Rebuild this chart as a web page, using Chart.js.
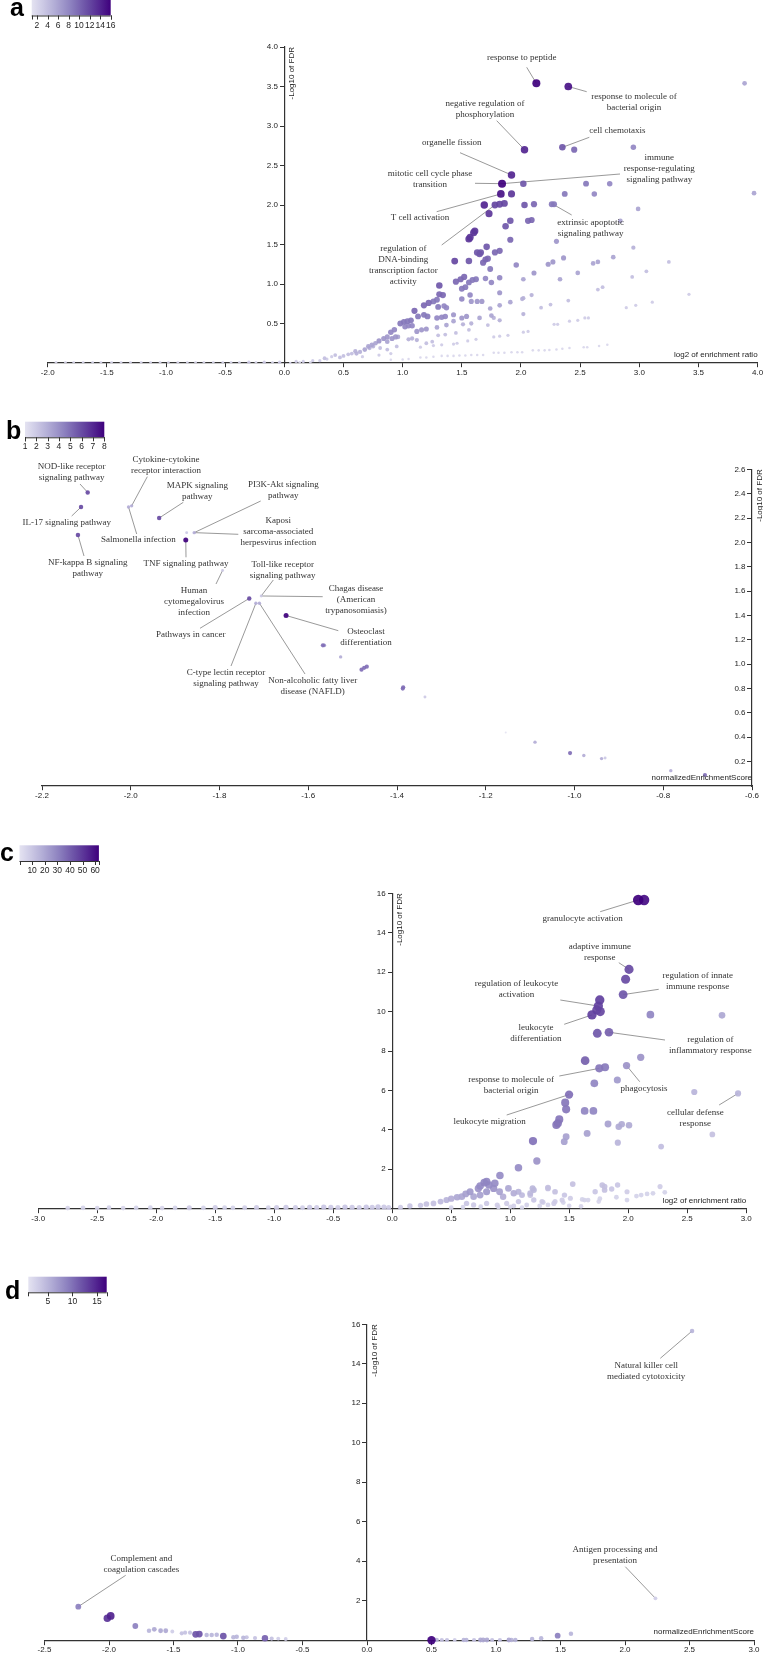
<!DOCTYPE html>
<html><head><meta charset="utf-8">
<script src="https://cdn.jsdelivr.net/npm/chart.js@4.4.1/dist/chart.umd.min.js"></script>
<style>
html,body{margin:0;padding:0;background:#fff;}
body{width:763px;height:1653px;position:relative;overflow:hidden;}
.p{position:absolute;left:0;width:763px;}
canvas{display:block;}
</style></head><body>
<div class="p" style="top:0px;height:388px"><canvas id="ca" width="763" height="388"></canvas></div>
<div class="p" style="top:388px;height:417px"><canvas id="cb" width="763" height="417"></canvas></div>
<div class="p" style="top:805px;height:420px"><canvas id="cc" width="763" height="420"></canvas></div>
<div class="p" style="top:1225px;height:428px"><canvas id="cd" width="763" height="428"></canvas></div>
<script>
// ---------------- Panel a data ----------------
const aX = [2.13,2.40,3.89,2.03,2.35,2.45,2.95,1.92,1.84,2.02,
2.55,2.75,3.97,1.83,1.92,2.37,2.62,1.69,1.78,1.82,
1.86,2.03,2.11,2.26,2.28,2.99,1.73,1.91,2.06,2.09,
2.84,1.87,1.61,1.60,1.57,1.56,1.91,2.30,2.95,1.71,
1.63,1.66,1.65,1.78,1.82,1.44,1.56,1.70,1.72,1.68,
1.74,1.96,2.23,2.27,2.36,2.61,2.65,2.78,3.25,2.11,
2.48,3.06,2.94,2.02,2.33,1.82,1.45,1.49,1.52,1.56,
1.59,1.62,1.31,1.50,1.53,1.70,1.75,1.31,1.34,1.18,
1.22,1.26,1.29,1.10,1.50,1.57,1.58,1.63,1.67,1.82,
1.74,1.82,1.91,2.01,2.02,2.09,2.17,2.25,2.40,2.65,
2.69,2.89,2.97,3.11,3.42,1.30,1.35,1.37,1.13,1.18,
1.21,1.29,1.33,1.36,1.43,1.50,1.54,1.65,1.75,1.82,
2.02,0.98,1.01,1.04,1.07,1.02,1.05,1.08,1.12,1.16,
1.20,1.29,1.37,1.43,1.51,1.58,1.77,2.28,2.31,2.41,
2.48,2.54,2.57,1.82,1.89,2.02,2.06,0.84,0.87,0.91,
0.94,0.96,0.87,1.05,1.08,1.12,1.20,1.25,1.30,1.36,
1.45,1.56,1.72,1.43,1.46,1.55,1.62,1.77,1.15,1.26,
1.33,0.71,0.74,0.77,0.72,0.75,0.64,0.61,0.57,0.54,
0.50,0.43,0.40,0.36,0.30,0.22,0.13,0.05,0.81,0.87,
0.95,0.66,0.80,0.90,0.90,1.00,1.05,1.15,1.20,1.26,
1.33,1.38,1.43,1.48,1.53,1.58,1.63,1.68,1.77,1.81,
1.86,1.92,1.97,2.01,2.10,2.15,2.20,2.24,2.30,2.35,
2.41,2.53,2.56,2.66,2.73,-1.93,-1.85,-1.78,-1.70,-1.62,
-1.55,-1.46,-1.38,-1.30,-1.21,-1.13,-1.05,-0.98,-0.90,-0.82,
-0.75,-0.68,-0.60,-0.52,-0.45,-0.38,-0.30,-0.24,-0.17,-0.10,
-0.04,0.10,0.16,0.24,0.34,0.90,0.93,0.80,0.68,0.60,
0.47];
const aY = [3.54,3.50,3.54,2.70,2.73,2.70,2.73,2.38,2.27,2.27,
2.27,2.27,2.15,2.14,2.14,2.14,2.14,2.00,2.00,2.01,
2.02,2.00,2.01,2.01,2.01,1.95,1.89,1.80,1.80,1.81,
1.80,1.73,1.67,1.65,1.59,1.57,1.56,1.54,1.46,1.47,
1.40,1.40,1.38,1.40,1.42,1.29,1.29,1.31,1.32,1.27,
1.19,1.24,1.25,1.28,1.33,1.26,1.28,1.34,1.28,1.14,
1.14,1.16,1.09,1.06,1.06,1.08,1.03,1.06,1.09,1.02,
1.05,1.06,0.98,0.94,0.96,1.07,1.02,0.87,0.86,0.73,
0.76,0.78,0.80,0.66,0.81,0.86,0.78,0.78,0.78,0.89,
0.69,0.73,0.77,0.81,0.82,0.86,0.70,0.74,0.79,0.93,
0.96,0.70,0.73,0.77,0.87,0.71,0.72,0.70,0.59,0.61,
0.59,0.57,0.58,0.59,0.61,0.57,0.59,0.57,0.60,0.54,
0.62,0.50,0.52,0.53,0.54,0.46,0.47,0.47,0.40,0.42,
0.43,0.45,0.48,0.53,0.49,0.50,0.57,0.49,0.49,0.53,
0.54,0.57,0.57,0.34,0.35,0.39,0.40,0.31,0.33,0.31,
0.33,0.33,0.27,0.30,0.31,0.29,0.25,0.27,0.35,0.36,
0.38,0.42,0.48,0.24,0.25,0.28,0.30,0.33,0.20,0.22,
0.23,0.21,0.23,0.25,0.19,0.21,0.14,0.12,0.12,0.11,
0.09,0.10,0.08,0.05,0.03,0.01,0.01,0.00,0.19,0.17,
0.21,0.08,0.10,0.12,0.04,0.045,0.05,0.07,0.07,0.08,
0.09,0.09,0.09,0.095,0.095,0.10,0.10,0.10,0.13,0.13,
0.13,0.135,0.135,0.135,0.16,0.16,0.16,0.165,0.17,0.18,
0.19,0.20,0.20,0.215,0.23,0.01,0.01,0.01,0.01,0.01,
0.01,0.01,0.01,0.01,0.01,0.01,0.01,0.01,0.01,0.01,
0.01,0.01,0.01,0.01,0.01,0.01,0.01,0.01,0.01,0.01,
0.01,0.02,0.02,0.03,0.06,0.39,0.42,0.28,0.17,0.15,
0.07];
const aN = [16,15,6,14,11,10,8,14,16,11,
9,8,6,15,13,9,8,14,12,12,
12,11,10,9,9,6,13,11,10,10,
6,11,13,13,13,13,10,7,5,11,
11,11,11,10,10,12,11,10,10,10,
9,8,7,7,7,6,6,6,4,7,
6,4,4,6,6,8,10,10,10,9,
9,9,11,9,9,8,8,10,10,10,
10,9,9,10,8,8,7,7,7,7,
6,6,6,5,5,5,4,4,4,4,
4,3,3,3,3,9,8,8,9,9,
9,8,8,8,7,7,7,6,6,5,
5,9,9,9,9,8,8,8,7,7,
7,6,6,6,5,5,5,3,3,3,
3,3,3,3,3,3,3,7,7,7,
7,6,6,5,5,5,4,4,4,4,
4,4,4,3,3,3,3,3,3,3,
3,6,6,6,5,5,5,5,4,4,
4,4,3,3,3,2,2,2,4,4,
4,3,3,3,2,2,2,2,2,2,
2,2,2,2,2,2,2,2,2,2,
2,2,2,2,2,2,2,2,2,2,
2,2,2,2,2,2,2,2,2,2,
2,2,2,2,2,2,2,2,2,2,
2,2,2,2,2,2,3,2,3,2,
3,3,3,3,4,8,8,7,6,5,
4];
const aXRange = [-2, 4], aYRange = [0, 4];
const aXTicks = [-2,-1.5,-1,-0.5,0,0.5,1,1.5,2,2.5,3,3.5,4];
const aYTicks = [0.5,1,1.5,2,2.5,3,3.5,4];
const aColorRange = [1, 16];
const aBarTicks = [2,4,6,8,10,12,14,16];

// ---------------- Panel b data ----------------
const bX = [-2.097,-2.112,-2.119,-2.005,-1.998,-1.936,-1.857,-1.874,-1.876,-1.793,
-1.706,-1.733,-1.718,-1.710,-1.650,-1.567,-1.564,-1.527,-1.480,-1.474,
-1.468,-1.386,-1.387,-1.337,-1.155,-1.089,-1.010,-0.979,-0.939,-0.931,
-0.783,-0.706];
const bY = [2.41,2.29,2.06,2.29,2.30,2.20,2.08,2.08,2.02,1.77,
1.56,1.54,1.50,1.50,1.40,1.155,1.155,1.06,0.955,0.97,
0.98,0.81,0.80,0.73,0.44,0.36,0.27,0.25,0.225,0.23,
0.126,0.09];
const bN = [6,6,6,3,3,6,3,2,8,2,
2,6,3,3,8,5,4,3,5,5,
5,5,5,2,1,3,5,3,3,2,
3,5];
const bXRange = [-2.2, -0.6], bYRange = [0, 2.6];
const bXTicks = [-2.2,-2.0,-1.8,-1.6,-1.4,-1.2,-1.0,-0.8,-0.6];
const bYTicks = [0.2,0.4,0.6,0.8,1.0,1.2,1.4,1.6,1.8,2.0,2.2,2.4,2.6];
const bColorRange = [1, 8];
const bBarTicks = [1,2,3,4,5,6,7,8];

// ---------------- Panel c data ----------------
const cX = [2.085,2.135,2.007,1.978,1.957,1.759,1.747,1.734,1.763,1.693,
2.188,2.795,1.738,1.837,1.635,1.755,1.804,1.986,2.106,1.908,
1.713,2.560,2.931,1.499,1.466,1.474,1.631,1.705,1.416,1.404,
1.391,1.829,1.920,1.945,2.007,1.652,2.713,1.474,1.458,1.193,
1.912,2.279,1.226,1.070,0.913,
0.623,0.66,0.73,0.745,0.78,0.80,0.82,0.86,0.87,0.69,
0.745,0.80,0.91,0.94,0.985,1.03,1.07,1.10,1.17,1.20,
1.32,1.38,1.07,1.20,1.27,1.37,0.46,0.50,0.55,0.59,
0.41,0.35,0.29,0.24,0.15,0.07,0.63,0.69,0.80,0.89,
0.97,1.03,1.14,1.25,1.32,
1.19,1.17,1.32,1.53,1.46,1.51,1.44,1.38,1.28,1.63,
1.66,1.72,1.78,1.80,1.80,1.86,1.91,1.99,1.99,2.07,
2.11,2.16,2.21,2.27,2.31,1.90,1.76,1.75,1.61,1.45,
0.50,0.60,0.75,0.90,1.00,1.10,1.50,1.60,
-2.75,-2.62,-2.50,-2.40,-2.28,-2.17,-2.05,-1.95,-1.84,-1.72,
-1.60,-1.50,-1.42,-1.35,-1.25,-1.15,-1.05,-0.98,-0.90,-0.82,
-0.76,-0.70,-0.64,-0.58,-0.52,-0.46,-0.40,-0.34,-0.28,-0.22,
-0.17,-0.12,-0.07,-0.03];
const cY = [15.66,15.66,12.14,11.64,10.86,10.59,10.28,10.08,10.0,9.83,
9.84,9.81,8.90,8.95,7.51,7.12,7.17,7.26,7.68,6.53,
6.36,5.92,5.85,5.79,5.38,5.04,4.96,4.96,4.53,4.33,
4.25,4.30,4.16,4.28,4.23,3.82,3.77,3.65,3.40,3.43,
3.35,3.15,2.42,2.08,1.68,
0.75,0.86,1.03,1.15,1.32,1.37,1.20,1.03,1.29,0.61,
0.69,0.86,0.86,0.61,1.03,0.78,0.86,0.69,0.78,0.95,
1.03,0.86,0.36,0.44,0.36,0.27,0.44,0.51,0.58,0.61,
0.36,0.27,0.24,0.17,0.14,0.07,0.27,0.19,0.27,0.19,
0.27,0.14,0.19,0.14,0.19,
1.03,0.69,1.07,1.25,0.69,0.53,0.44,0.36,0.31,0.44,
0.44,0.86,1.20,1.12,0.95,1.00,1.20,0.86,0.44,0.64,
0.69,0.75,0.78,1.12,0.83,0.58,0.51,0.36,0.47,0.31,
0.05,0.08,0.10,0.08,0.10,0.06,0.15,0.12,
0.03,0.04,0.03,0.05,0.03,0.04,0.05,0.03,0.04,0.05,
0.04,0.06,0.05,0.04,0.05,0.06,0.05,0.06,0.07,0.06,
0.05,0.07,0.06,0.08,0.07,0.06,0.08,0.07,0.06,0.08,
0.07,0.09,0.08,0.06];
const cN = [63,60,45,45,42,48,47,46,46,48,
30,20,42,40,40,34,33,26,26,24,
30,16,16,36,34,34,30,30,34,34,
34,22,19,19,19,22,12,22,22,35,
16,13,26,28,28,
22,24,26,28,30,30,28,26,28,20,
22,24,22,18,20,18,16,14,14,15,
12,12,10,10,9,8,16,18,20,20,
14,12,12,10,10,8,10,9,9,8,
8,7,7,6,6,
15,12,12,12,10,8,8,8,7,6,
6,10,12,12,12,10,10,8,6,6,
6,6,6,8,6,6,6,5,6,6,
6,6,6,5,5,5,5,5,
5,6,5,6,5,6,6,5,6,8,
6,8,6,6,7,8,6,8,9,8,
7,9,8,10,9,8,10,9,8,10,
9,10,9,8];
const cXRange = [-3, 3], cYRange = [0, 16];
const cXTicks = [-3,-2.5,-2,-1.5,-1,-0.5,0,0.5,1,1.5,2,2.5,3];
const cYTicks = [2,4,6,8,10,12,14,16];
const cColorRange = [0, 63];
const cBarTicks = [10,20,30,40,50,60];

// ---------------- Panel d data ----------------
const dX = [2.52,2.236,-2.238,-2.013,-1.987,-1.796,-1.69,-1.649,-1.60,-1.56,
-1.509,-1.436,-1.41,-1.372,-1.328,-1.30,-1.243,-1.204,-1.165,-1.114,
-1.036,-1.010,-0.959,-0.933,-0.868,-0.791,-0.739,-0.688,-0.630,0.50,
0.54,0.58,0.62,0.68,0.75,0.77,0.83,0.88,0.90,0.93,
0.97,1.03,1.10,1.12,1.15,1.28,1.35,1.478,1.581];
const dY = [15.66,2.12,1.70,1.11,1.23,0.72,0.48,0.55,0.48,0.48,
0.44,0.35,0.38,0.38,0.30,0.31,0.26,0.26,0.28,0.21,
0.15,0.17,0.13,0.15,0.11,0.095,0.08,0.08,0.06,0.0,
0.01,0.01,0.01,0.01,0.01,0.01,0.01,0.01,0.01,0.01,
0.01,0.01,0.01,0.01,0.01,0.06,0.10,0.23,0.33];
const dN = [5,3,9,14,15,9,5,6,6,6,
3,4,4,4,12,12,5,5,5,12,
5,5,5,4,4,11,4,3,3,17,
5,4,4,3,5,5,4,6,6,6,
4,4,6,5,5,5,5,9,5];
const dXRange = [-2.5, 3], dYRange = [0, 16];
const dXTicks = [-2.5,-2,-1.5,-1,-0.5,0,0.5,1,1.5,2,2.5,3];
const dYTicks = [2,4,6,8,10,12,14,16];
const dColorRange = [1, 17];
const dBarTicks = [5,10,15];

// ---------------- Annotations (label text, page px of label and leader start, data point) ----------------
const aNotes = [
 {t:['response to peptide'], c:[521.7,57.7], l:[526.7,67.3], p:[2.13,3.54]},
 {t:['response to molecule of','bacterial origin'], c:[634,96.7], l:[586.7,91.7], p:[2.40,3.50]},
 {t:['negative regulation of','phosphorylation'], c:[485,103.3], l:[496.7,120.7], p:[2.03,2.70]},
 {t:['cell chemotaxis'], c:[617.3,130.7], l:[589.3,137.3], p:[2.35,2.73]},
 {t:['organelle fission'], c:[451.7,142.3], l:[460,152.7], p:[1.92,2.38]},
 {t:['mitotic cell cycle phase','transition'], c:[430,174], l:[475,183.3], p:[1.84,2.27]},
 {t:['immune','response-regulating','signaling pathway'], c:[659.3,157.7], l:[620,174], p:[1.84,2.27]},
 {t:['T cell activation'], c:[420,217.7], l:[436.7,211.7], p:[1.83,2.14]},
 {t:['regulation of','DNA-binding','transcription factor','activity'], c:[403.3,248.3], l:[441.7,245], p:[1.78,2.00]},
 {t:['extrinsic apoptotic','signaling pathway'], c:[590.7,222.7], l:[571.7,215], p:[2.27,2.01]}
];
const bNotes = [
 {t:['NOD-like receptor','signaling pathway'], c:[71.7,466.7], l:[80,484], p:[-2.097,2.41]},
 {t:['IL-17 signaling pathway'], c:[66.7,522.7], l:[71.7,516], p:[-2.112,2.29]},
 {t:['NF-kappa B signaling','pathway'], c:[87.7,562.7], l:[84,556], p:[-2.119,2.06]},
 {t:['Cytokine-cytokine','receptor interaction'], c:[166,460], l:[147.3,476.7], p:[-1.998,2.30]},
 {t:['Salmonella infection'], c:[138.3,540], l:[136.7,534], p:[-2.005,2.29]},
 {t:['MAPK signaling','pathway'], c:[197.3,486], l:[183.3,502.3], p:[-1.936,2.20]},
 {t:['PI3K-Akt signaling','pathway'], c:[283.3,485], l:[260.7,501], p:[-1.857,2.08]},
 {t:['Kaposi','sarcoma-associated','herpesvirus infection'], c:[278.3,521], l:[238.3,534.3], p:[-1.857,2.08]},
 {t:['TNF signaling pathway'], c:[186,564], l:[186,557.3], p:[-1.876,2.02]},
 {t:['Human','cytomegalovirus','infection'], c:[194,591], l:[216,584], p:[-1.793,1.77]},
 {t:['Toll-like receptor','signaling pathway'], c:[282.7,564.3], l:[273.3,580], p:[-1.706,1.56]},
 {t:['Chagas disease','(American','trypanosomiasis)'], c:[356,588.7], l:[322.7,596.7], p:[-1.706,1.56]},
 {t:['Pathways in cancer'], c:[190.7,634.7], l:[200,628.3], p:[-1.733,1.54]},
 {t:['Osteoclast','differentiation'], c:[366,631.7], l:[338.3,630.7], p:[-1.650,1.40]},
 {t:['C-type lectin receptor','signaling pathway'], c:[226,672.7], l:[231,666], p:[-1.718,1.50]},
 {t:['Non-alcoholic fatty liver','disease (NAFLD)'], c:[312.7,681], l:[305,674], p:[-1.710,1.50]}
];
const cNotes = [
 {t:['granulocyte activation'], c:[582.7,918.7], l:[600.2,911.7], p:[2.085,15.66]},
 {t:['adaptive immune','response'], c:[599.8,947], l:[618.8,962.7], p:[2.007,12.14]},
 {t:['regulation of innate','immune response'], c:[697.7,976], l:[658.7,989.3], p:[1.957,10.86]},
 {t:['regulation of leukocyte','activation'], c:[516.4,984], l:[560.3,1000], p:[1.747,10.28]},
 {t:['leukocyte','differentiation'], c:[535.9,1027.3], l:[564.2,1024.3], p:[1.693,9.83]},
 {t:['regulation of','inflammatory response'], c:[710.4,1039.7], l:[665,1040], p:[1.837,8.95]},
 {t:['response to molecule of','bacterial origin'], c:[511.1,1079.7], l:[559.3,1076], p:[1.755,7.12]},
 {t:['phagocytosis'], c:[644.1,1088.3], l:[639.7,1081.7], p:[1.986,7.26]},
 {t:['leukocyte migration'], c:[489.6,1122], l:[506.7,1115], p:[1.499,5.79]},
 {t:['cellular defense','response'], c:[695.3,1112.7], l:[719.1,1105], p:[2.931,5.85]}
];
const dNotes = [
 {t:['Natural killer cell','mediated cytotoxicity'], c:[646.2,1366], l:[660.3,1358.3], p:[2.52,15.66]},
 {t:['Antigen processing and','presentation'], c:[615,1549.7], l:[625.3,1566.7], p:[2.236,2.12]},
 {t:['Complement and','coagulation cascades'], c:[141.3,1558.7], l:[125.7,1575.3], p:[-2.238,1.70]}
];

// ---------------- styling helpers ----------------
const RAMP = [[228,227,241],[200,197,227],[170,164,209],[140,128,191],[111,87,169],[87,46,149],[63,0,125]];
function rampRGB(t){
  t = Math.max(0, Math.min(1, t));
  const s = t*(RAMP.length-1);
  const i = Math.min(Math.floor(s), RAMP.length-2);
  const f = s - i, a = RAMP[i], b = RAMP[i+1];
  return [0,1,2].map(k => Math.round(a[k] + (b[k]-a[k])*f));
}
function rgba(t, al){ const c = rampRGB(t); return `rgba(${c[0]},${c[1]},${c[2]},${al})`; }
const SANS = '"Liberation Sans", Arial, Helvetica, sans-serif';
const SERIF = '"Liberation Serif", "Times New Roman", serif';

function axis(range, ticks, fmt, pos, showLabels){
  return {
    type:'linear', min:range[0], max:range[1], position:pos,
    afterBuildTicks: s => { s.ticks = ticks.map(v => ({value:v})); },
    afterFit: s => { s.paddingLeft = 0; s.paddingRight = 0; s.paddingTop = 0; s.paddingBottom = 0; },
    ticks:{ display:showLabels, callback: v => fmt(v), font:{family:SANS, size:8}, color:'#222', padding:1,
            autoSkip:false, maxRotation:0, minRotation:0 },
    grid:{ drawOnChartArea:false, drawTicks:true, tickLength:4, color:'#333', lineWidth:1 },
    border:{ display:true, color:'#333', width:1.2 }
  };
}

function deco(P){
  return {
    id:'deco',
    beforeDatasetsDraw(chart){
      const c = chart.ctx, sx = chart.scales.x, sy = chart.scales.y;
      c.save(); c.strokeStyle = '#8d8d8d'; c.lineWidth = 0.9;
      P.notes.forEach(n => {
        c.beginPath(); c.moveTo(n.l[0], n.l[1]-P.top);
        c.lineTo(sx.getPixelForValue(n.p[0]), sy.getPixelForValue(n.p[1])); c.stroke();
      });
      c.restore();
    },
    afterDraw(chart){
      const c = chart.ctx, sx = chart.scales.x, sy = chart.scales.y, ca = chart.chartArea;
      const ax = sx.getPixelForValue(P.yAt);
      c.save();
      // y tick labels (left of the tick marks)
      c.font = '8px ' + SANS; c.fillStyle = '#222'; c.textAlign = 'right'; c.textBaseline = 'middle';
      sy.ticks.forEach(t => c.fillText(P.yf(t.value), ax - 6.5, sy.getPixelForValue(t.value)));
      // annotation labels
      c.font = '9px ' + SERIF; c.fillStyle = '#333'; c.textAlign = 'center'; c.textBaseline = 'middle';
      P.notes.forEach(n => n.t.forEach((s,i) => c.fillText(s, n.c[0], n.c[1]-P.top+i*11)));
      // axis titles
      c.font = '8px ' + SANS; c.fillStyle = '#222'; c.textAlign = 'right'; c.textBaseline = 'middle';
      c.fillText(P.xTitle, ca.right, sy.getPixelForValue(0) - 8);
      c.save(); c.translate(ax + 7.7, ca.top); c.rotate(-Math.PI/2);
      c.textAlign = 'right'; c.fillText('-Log10 of FDR', 0, 0); c.restore();
      // colour bar
      const b = P.bar, y0 = b.y0 - P.top, y1 = b.y1 - P.top;
      const g = c.createLinearGradient(b.x0, 0, b.x1, 0);
      for (let i = 0; i <= 20; i++) g.addColorStop(i/20, rgba(i/20, 1));
      c.fillStyle = g; c.fillRect(b.x0, y0, b.x1-b.x0, y1-y0);
      const vx = v => b.x0 + (v - P.cr[0])/(P.cr[1]-P.cr[0])*(b.x1-b.x0);
      c.strokeStyle = '#333'; c.lineWidth = 1;
      c.beginPath(); c.moveTo(b.x0, y1+0.5); c.lineTo(b.x1, y1+0.5);
      [P.cr[0], ...b.ticks, P.cr[1]].forEach(v => { const x = Math.round(vx(v))+0.5; c.moveTo(x, y1); c.lineTo(x, y1+4); });
      c.stroke();
      c.font = '8.5px ' + SANS; c.fillStyle = '#222'; c.textAlign = 'center'; c.textBaseline = 'middle';
      b.ticks.forEach(v => c.fillText(String(v), vx(v), y1 + 9.7));
      // panel letter
      c.font = 'bold 25px ' + SANS; c.fillStyle = '#000'; c.textAlign = 'left'; c.textBaseline = 'alphabetic';
      c.fillText(P.letter[0], P.letter[1], P.letter[2] - P.top);
      c.restore();
    }
  };
}

function makePanel(P){
  const idx = P.X.map((_,i) => i).sort((i,j) => P.N[i]-P.N[j]);
  const pts = idx.map(i => ({x:P.X[i], y:P.Y[i], n:P.N[i]}));
  const col = ctx => ctx.raw ? rgba((ctx.raw.n - P.cr[0])/(P.cr[1]-P.cr[0]), 0.92) : '#888';
  const rad = ctx => ctx.raw ? P.rad(ctx.raw.n) : 2;
  new Chart(document.getElementById(P.id), {
    type:'scatter',
    data:{ datasets:[{ data:pts, clip:false, pointRadius:rad, pointHoverRadius:rad,
      pointBackgroundColor:col, pointHoverBackgroundColor:col, pointBorderWidth:0, borderWidth:0,
      pointBorderColor:'rgba(0,0,0,0)' }]},
    options:{
      responsive:false, animation:false, events:[],
      layout:{ autoPadding:false, padding:P.pad },
      plugins:{ legend:{display:false}, tooltip:{enabled:false} },
      scales:{
        x: axis(P.xr, P.xt, P.xf, {y:0}, true),
        y: axis(P.yr, P.yt, P.yf, {x:P.yAt}, false)
      }
    },
    plugins:[deco(P)]
  });
}

const f1 = v => v.toFixed(1), f0 = v => String(Math.round(v));

makePanel({id:'ca', top:0, X:aX, Y:aY, N:aN, cr:aColorRange, xr:aXRange, yr:aYRange, xt:aXTicks, yt:aYTicks,
  xf:f1, yf:f1, yAt:0, pad:{left:47.7, right:5.4, top:47, bottom:25},
  rad: n => 0.6 + 3.4*Math.pow((n-1)/15, 0.6),
  bar:{x0:31.7, x1:110.7, y0:0, y1:15.5, ticks:aBarTicks}, letter:['a',10,16],
  xTitle:'log2 of enrichment ratio', notes:aNotes});

makePanel({id:'cb', top:388, X:bX, Y:bY, N:bN, cr:bColorRange, xr:bXRange, yr:bYRange, xt:bXTicks, yt:bYTicks,
  xf:f1, yf:f1, yAt:-0.6, pad:{left:42, right:11, top:81.3, bottom:19},
  rad: n => 1 + 1.5*Math.pow((n-1)/7, 0.6),
  bar:{x0:25, x1:104.3, y0:421.7, y1:437.3, ticks:bBarTicks}, letter:['b',6,439],
  xTitle:'normalizedEnrichmentScore', notes:bNotes});

makePanel({id:'cc', top:805, X:cX, Y:cY, N:cN, cr:cColorRange, xr:cXRange, yr:cYRange, xt:cXTicks, yt:cYTicks,
  xf:f1, yf:f0, yAt:0, pad:{left:38.2, right:16.8, top:88.3, bottom:16.3},
  rad: n => 1.8 + 3.5*Math.pow(Math.max(0,(n-1))/62, 0.7),
  bar:{x0:19.5, x1:98.9, y0:845.3, y1:861, ticks:cBarTicks}, letter:['c',0,861],
  xTitle:'log2 of enrichment ratio', notes:cNotes});

makePanel({id:'cd', top:1225, X:dX, Y:dY, N:dN, cr:dColorRange, xr:dXRange, yr:dYRange, xt:dXTicks, yt:dYTicks,
  xf:f1, yf:f0, yAt:0, pad:{left:44.5, right:9, top:99.3, bottom:12.8},
  rad: n => 1.6 + 2.6*(n-1)/16,
  bar:{x0:28.3, x1:106.7, y0:1276.7, y1:1292.3, ticks:dBarTicks}, letter:['d',5,1299],
  xTitle:'normalizedEnrichmentScore', notes:dNotes});
</script>
</body></html>
